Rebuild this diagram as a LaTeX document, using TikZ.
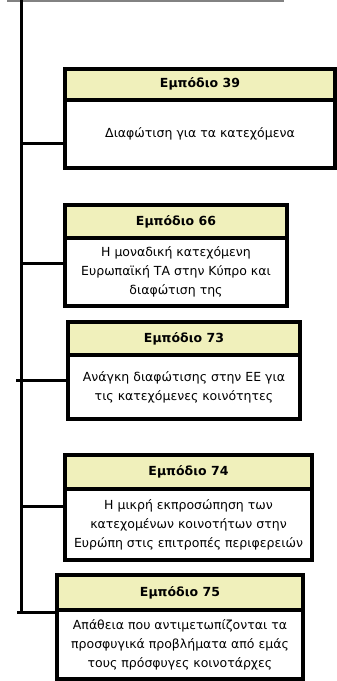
\documentclass[tikz,border=0pt]{standalone}
\usepackage{fontspec}
\setmainfont{DejaVu Sans}
\definecolor{hdrfill}{RGB}{240,240,187}
\definecolor{topgray}{RGB}{130,130,130}
\begin{document}
\begin{tikzpicture}[x=1pt,y=-1pt,
  box/.style={draw, line width=4pt, inner sep=0pt, outer sep=0pt, anchor=north west, align=center, fill=white,
    font=\fontsize{12.5}{19}\selectfont},
  hdrbox/.style={box, fill=hdrfill, font=\bfseries\fontsize{12.5}{15}\selectfont},
  link/.style={line width=3pt}]
\useasboundingbox (0,0) rectangle (337,681);
% top gray line
\coordinate (g1) at (7,0.75);
\coordinate (g2) at (284,0.75);
\draw[topgray, line width=1.5pt] (g1) -- (g2);
% spine
\coordinate (top) at (21.5,0);
\coordinate (bot) at (21.5,613.5);
\draw[link] (top) -- (bot);
% Box 39
\node[box, minimum width=270pt, minimum height=68.5pt] (b39) at (65,99.5) {Διαφώτιση για τα κατεχόμενα};
\node[hdrbox, minimum width=270pt, minimum height=30.5pt] (h39) at (65,69) {Εμπόδιο 39};
% Box 66
\node[box, minimum width=222pt, minimum height=68pt] (b66) at (65,238) {Η μοναδική κατεχόμενη\\Ευρωπαϊκή ΤΑ στην Κύπρο και\\διαφώτιση της};
\node[hdrbox, minimum width=222pt, minimum height=33pt] (h66) at (65,205) {Εμπόδιο 66};
% Box 73
\node[box, minimum width=232pt, minimum height=64pt] (b73) at (68,355) {Ανάγκη διαφώτισης στην ΕΕ για\\τις κατεχόμενες κοινότητες};
\node[hdrbox, minimum width=232pt, minimum height=33pt] (h73) at (68,322) {Εμπόδιο 73};
% Box 74
\node[box, minimum width=247pt, minimum height=71pt] (b74) at (65,489) {Η μικρή εκπροσώπηση των\\κατεχομένων κοινοτήτων στην\\Ευρώπη στις επιτροπές περιφερειών};
\node[hdrbox, minimum width=247pt, minimum height=34pt] (h74) at (65,455) {Εμπόδιο 74};
% Box 75
\node[box, minimum width=246pt, minimum height=69pt] (b75) at (57,610) {Απάθεια που αντιμετωπίζονται τα\\προσφυγικά προβλήματα από εμάς\\τους πρόσφυγες κοινοτάρχες};
\node[hdrbox, minimum width=246pt, minimum height=35pt] (h75) at (57,575) {Εμπόδιο 75};
% connectors
\coordinate (c39) at (21.5,143);
\coordinate (c66) at (21.5,263);
\coordinate (c73) at (16,380);
\coordinate (c74) at (21.5,506);
\coordinate (c75) at (17,612);
\draw[link] (c39) -- (c39 -| b39.west);
\draw[link] (c66) -- (c66 -| b66.west);
\draw[link] (c73) -- (c73 -| b73.west);
\draw[link] (c74) -- (c74 -| b74.west);
\draw[link] (c75) -- (c75 -| b75.west);
\end{tikzpicture}
\end{document}
